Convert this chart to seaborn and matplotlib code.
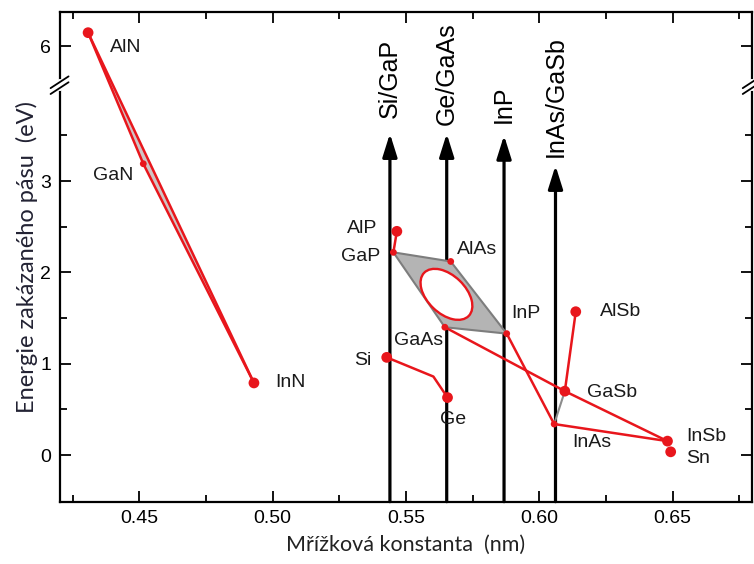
import numpy as np
import pandas as pd
import matplotlib
matplotlib.use("Agg")
import matplotlib.pyplot as plt
import matplotlib.transforms as mtransforms
from matplotlib.patches import Polygon, Ellipse
from matplotlib.ticker import AutoMinorLocator
import seaborn as sns

# Data
compounds = ["AlN", "GaN", "InN", "AlP", "GaP", "AlAs", "InP", "GaAs",
             "Si", "Ge", "AlSb", "GaSb", "InAs", "InSb", "Sn"]
lattice_nm = [0.4308, 0.4515, 0.4930, 0.5466, 0.5453, 0.5668, 0.5878, 0.5646,
              0.5428, 0.5656, 0.6137, 0.6096, 0.6056, 0.6481, 0.6493]
gap_ev = [6.15, 3.19, 0.79, 2.45, 2.22, 2.12, 1.33, 1.40,
          1.07, 0.63, 1.57, 0.70, 0.34, 0.153, 0.036]

# SiGe bowing kink
sige_x = [0.5428, 0.5603, 0.5656]
sige_y = [1.07, 0.86, 0.63]

substrates = ["Si/GaP", "Ge/GaAs", "InP", "InAs/GaSb"]
substrate_a = [0.5440, 0.5653, 0.5868, 0.6061]
arrow_tip = [3.52, 3.52, 3.50, 3.17]
label_base = [3.69, 3.61, 3.64, 3.26]

red_paths = [["AlN", "GaN", "InN"], ["AlN", "InN"], ["AlP", "GaP"],
             ["GaAs", "GaSb", "InSb"], ["InP", "InAs", "InSb"], ["AlSb", "GaSb"]]
gray_paths = [["GaSb", "InAs"]]
big_dots = ["AlN", "InN", "AlP", "Si", "Ge", "AlSb", "GaSb", "InSb", "Sn"]

# label offsets in pixels (dx, dy-down), horizontal alignment
label_pos = {
    "AlN": (22, 15, "left"), "GaN": (-10, 12, "right"), "InN": (21, 0, "left"),
    "AlP": (-20, -3, "right"), "GaP": (-13, 4, "right"), "AlAs": (6, -12, "left"),
    "InP": (5, -20, "left"), "GaAs": (-2, 13, "right"), "Si": (-15, 3, "right"),
    "Ge": (6, 22, "center"), "AlSb": (24, 0, "left"), "GaSb": (22, 1, "left"),
    "InAs": (18, 18, "left"), "InSb": (19, -5, "left"), "Sn": (15, 7, "left"),
}

df = pd.DataFrame({"compound": compounds, "a": lattice_nm, "eg": gap_ev})
pts = df.set_index("compound")

RED = "#e8161c"

# broken y axis: compress the gap between ~4 and ~5.6 eV
LO, SHIFT, K = 4.05, 1.525, 0.001
HI = LO + SHIFT / (1 - K)
ZC = HI - SHIFT


def fwd(y):
    y = np.asarray(y, dtype=float)
    return np.where(y <= LO, y, np.where(y >= HI, y - SHIFT, LO + (y - LO) * K))


def inv(z):
    z = np.asarray(z, dtype=float)
    return np.where(z <= LO, z, np.where(z >= ZC, z + SHIFT, LO + (z - LO) / K))


sns.set_theme(style="ticks")
plt.rcParams["font.family"] = ["Liberation Sans", "DejaVu Sans"]

fig = plt.figure(figsize=(7.54, 5.64), dpi=100)
ax = fig.add_axes([0.079, 0.1105, 0.918, 0.868])
ax.set_yscale("function", functions=(fwd, inv))
ax.set_xlim(0.4201, 0.6797)
ax.set_ylim(-0.51, 6.375)

# nitride sliver
tri = Polygon(pts.loc[["AlN", "GaN", "InN"], ["a", "eg"]].values, closed=True,
              facecolor="#cfc4c4", edgecolor="none", zorder=1)
ax.add_patch(tri)

# substrate lines with arrows
for name, xa, tip, base in zip(substrates, substrate_a, arrow_tip, label_base):
    ax.annotate("", xy=(xa, tip), xytext=(xa, -0.51),
                arrowprops=dict(arrowstyle="-|>,head_length=0.7,head_width=0.22",
                                lw=2.3, color="black", mutation_scale=20,
                                shrinkA=0, shrinkB=0), zorder=2)
    ax.text(xa, base, name, rotation=90, ha="center", va="bottom",
            fontsize=18, color="black")

# quaternary region
quad = Polygon(pts.loc[["GaP", "AlAs", "InP", "GaAs"], ["a", "eg"]].values,
               closed=True, facecolor="#b4b4b4", edgecolor="#7d7d7d", lw=1.5, zorder=3)
ax.add_patch(quad)
ell_tr = fig.dpi_scale_trans + mtransforms.ScaledTranslation(0.5652, 1.76, ax.transData)
ax.add_patch(Ellipse((0, 0), 0.62, 0.38, angle=-44, transform=ell_tr,
                     facecolor="white", edgecolor=RED, lw=1.7, zorder=4))

for path in red_paths:
    sub = pts.loc[path]
    sns.lineplot(x=sub["a"].values, y=sub["eg"].values, sort=False, estimator=None,
                 color=RED, lw=1.8, ax=ax, zorder=5)
sns.lineplot(x=sige_x, y=sige_y, sort=False, estimator=None, color=RED, lw=1.8,
             ax=ax, zorder=5)
for path in gray_paths:
    sub = pts.loc[path]
    sns.lineplot(x=sub["a"].values, y=sub["eg"].values, sort=False, estimator=None,
                 color="#8c8c8c", lw=1.5, ax=ax, zorder=5)

df["big"] = df["compound"].isin(big_dots)
sns.scatterplot(data=df[df["big"]], x="a", y="eg", color=RED, s=60,
                edgecolor="none", ax=ax, zorder=6)
sns.scatterplot(data=df[~df["big"]], x="a", y="eg", color=RED, s=24,
                edgecolor="none", ax=ax, zorder=6)

for name, (dx, dy, ha) in label_pos.items():
    ax.annotate(name, xy=(pts.loc[name, "a"], pts.loc[name, "eg"]),
                xytext=(dx, -dy), textcoords="offset pixels",
                ha=ha, va="center", fontsize=14, color="#1a1a1a", zorder=7)

# ticks and spines
ax.set_xticks([0.45, 0.50, 0.55, 0.60, 0.65])
ax.set_xticklabels(["0.45", "0.50", "0.55", "0.60", "0.65"])
ax.xaxis.set_minor_locator(AutoMinorLocator(2))
ax.set_yticks([0, 1, 2, 3, 6])
ax.set_yticks([0.5, 1.5, 2.5, 3.5], minor=True)
ax.tick_params(which="both", direction="in", top=True, right=True,
               width=1.3, labelsize=14, colors="black")
ax.tick_params(which="major", length=8, pad=6)
ax.tick_params(which="minor", length=5)
ax.tick_params(axis="x", which="both", top=True)
ax.xaxis.set_tick_params(which="minor", length=5)
for sp in ax.spines.values():
    sp.set_linewidth(1.6)
    sp.set_color("black")

# break marks
yb = (fwd(LO) - fwd(-0.51)) / (fwd(6.375) - fwd(-0.51))
for xs in (0.0, 1.0):
    ax.plot([xs, xs], [yb - 0.008, yb + 0.008], transform=ax.transAxes,
            color="white", lw=3, clip_on=False, zorder=10)
    for off in (-0.006, 0.006):
        ax.plot([xs - 0.013, xs + 0.013], [yb + off - 0.012, yb + off + 0.012],
                transform=ax.transAxes, color="black", lw=1.3, clip_on=False, zorder=11)

ax.set_xlabel("Mřížková konstanta  (nm)", fontsize=15.5, family=["Lato", "DejaVu Sans"],
              labelpad=6, color="#222222")
ax.set_ylabel("Energie zakázaného pásu  (eV)", fontsize=17, family=["Lato", "DejaVu Sans"],
              labelpad=2, color="#222233")
ax.grid(False)

fig.savefig("out.png", dpi=100)
